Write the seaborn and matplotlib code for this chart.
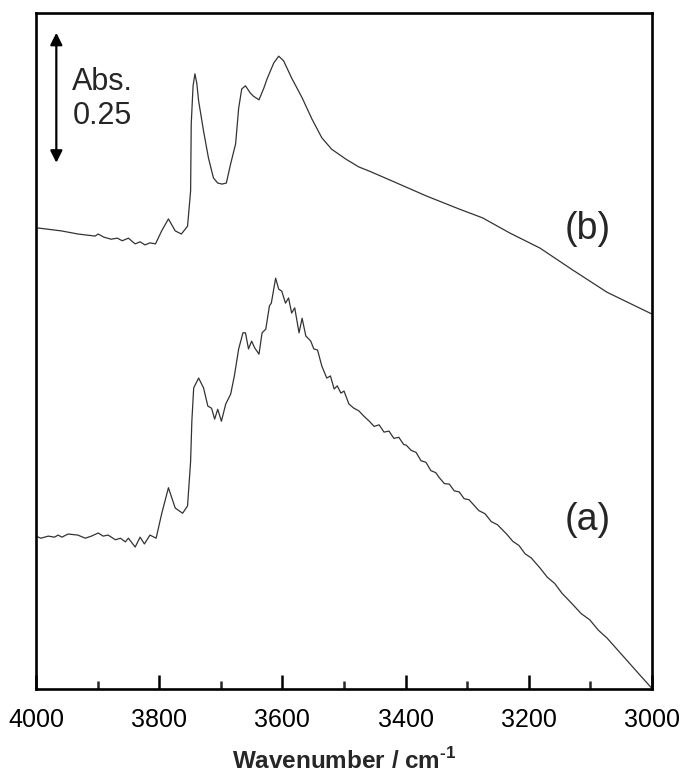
import matplotlib
matplotlib.use("Agg")
import matplotlib.pyplot as plt
from matplotlib.ticker import MultipleLocator
import seaborn as sns
import pandas as pd

# ---- data (wavenumber / cm-1, absorbance with vertical offset) ----
wn_b = [4000, 3959, 3932, 3904, 3899, 3890, 3878, 3868, 3860, 3850, 3839, 3831, 3823,
        3815, 3806, 3796, 3785, 3774, 3764, 3754, 3749, 3748, 3745, 3742, 3739, 3736,
        3728, 3720, 3712, 3705, 3698, 3691, 3684, 3676, 3671, 3666, 3660, 3652, 3647,
        3638, 3630, 3625, 3614, 3606, 3598, 3585, 3568, 3552, 3536, 3520, 3497, 3476,
        3459, 3422, 3366, 3313, 3275, 3231, 3182, 3129, 3073, 3000]
abs_b = [0.887, 0.881, 0.875, 0.871, 0.875, 0.869, 0.865, 0.867, 0.862, 0.867, 0.856,
         0.860, 0.854, 0.858, 0.856, 0.881, 0.904, 0.881, 0.875, 0.890, 0.958, 1.087,
         1.160, 1.183, 1.165, 1.131, 1.073, 1.021, 0.983, 0.973, 0.971, 0.973, 1.010,
         1.048, 1.117, 1.154, 1.160, 1.146, 1.140, 1.133, 1.156, 1.173, 1.204, 1.217,
         1.208, 1.175, 1.137, 1.096, 1.060, 1.038, 1.019, 1.004, 0.996, 0.977, 0.948,
         0.923, 0.906, 0.877, 0.848, 0.806, 0.763, 0.721]

wn_a = [4000, 3992, 3980, 3970, 3964, 3958, 3948, 3932, 3920, 3910, 3899, 3891, 3883,
        3871, 3863, 3855, 3850, 3839, 3831, 3824, 3815, 3805, 3796, 3785, 3774, 3762,
        3754, 3749, 3747, 3744, 3736, 3728, 3721, 3715, 3710, 3705, 3699, 3692, 3684,
        3678, 3671, 3664, 3660, 3655, 3650, 3645, 3638, 3633, 3627, 3621, 3618, 3611,
        3606, 3601, 3595, 3590, 3585, 3580, 3573, 3568, 3562, 3554, 3549, 3543, 3536,
        3528, 3522, 3516, 3511, 3505, 3500, 3492, 3484, 3476, 3468, 3459, 3451, 3443,
        3435, 3427, 3419, 3411, 3403, 3399, 3391, 3383, 3375, 3367, 3359, 3351, 3345,
        3337, 3329, 3321, 3313, 3305, 3297, 3291, 3281, 3271, 3261, 3251, 3236, 3226,
        3216, 3206, 3196, 3182, 3170, 3158, 3146, 3129, 3115, 3101, 3087, 3073, 3055,
        3037, 3019, 3000]
abs_a = [0.294, 0.290, 0.294, 0.292, 0.296, 0.292, 0.298, 0.296, 0.290, 0.294, 0.300,
         0.294, 0.296, 0.287, 0.290, 0.283, 0.290, 0.273, 0.292, 0.279, 0.296, 0.290,
         0.337, 0.387, 0.348, 0.338, 0.352, 0.438, 0.515, 0.579, 0.598, 0.579, 0.544,
         0.540, 0.519, 0.538, 0.515, 0.548, 0.567, 0.602, 0.654, 0.685, 0.685, 0.654,
         0.669, 0.656, 0.644, 0.685, 0.692, 0.737, 0.742, 0.790, 0.769, 0.765, 0.742,
         0.752, 0.723, 0.733, 0.685, 0.713, 0.679, 0.669, 0.654, 0.652, 0.621, 0.598,
         0.602, 0.577, 0.583, 0.569, 0.573, 0.548, 0.540, 0.535, 0.525, 0.515, 0.505,
         0.508, 0.494, 0.496, 0.482, 0.484, 0.470, 0.469, 0.459, 0.455, 0.439, 0.436,
         0.420, 0.416, 0.406, 0.395, 0.394, 0.381, 0.379, 0.366, 0.364, 0.356, 0.343,
         0.337, 0.322, 0.316, 0.298, 0.284, 0.276, 0.260, 0.252, 0.233, 0.215, 0.203,
         0.184, 0.163, 0.145, 0.133, 0.113, 0.098, 0.074, 0.050, 0.026, 0.001]

labels = ["(a)", "(b)"]
x_ticks = [4000, 3800, 3600, 3400, 3200, 3000]
scale_text = "Abs.\n0.25"
scale_len = 0.25

sns.set_theme(style="white")
plt.rcParams["font.family"] = ["Liberation Sans", "DejaVu Sans"]
plt.rcParams["mathtext.fontset"] = "custom"
plt.rcParams["mathtext.bf"] = "Liberation Sans:bold"
plt.rcParams["mathtext.rm"] = "Liberation Sans"

fig = plt.figure(figsize=(6.88, 7.78), dpi=100)
ax = fig.add_axes([36 / 688, 1 - 689 / 778, 616 / 688, 676 / 778])

df_a = pd.DataFrame({"wn": wn_a, "A": abs_a})
df_b = pd.DataFrame({"wn": wn_b, "A": abs_b})
sns.lineplot(data=df_a, x="wn", y="A", ax=ax, color="#333333", lw=0.9,
             estimator=None, sort=False)
sns.lineplot(data=df_b, x="wn", y="A", ax=ax, color="#333333", lw=0.9,
             estimator=None, sort=False)

ax.set_xlim(4000, 3000)
ax.set_ylim(0, 1.3)
ax.set_xticks(x_ticks)
ax.set_xticklabels([str(t) for t in x_ticks])
ax.xaxis.set_minor_locator(MultipleLocator(100))
ax.set_yticks([])
ax.set_ylabel("")
ax.tick_params(axis="x", which="major", direction="in", length=10, width=1.8,
               labelsize=18, pad=14, colors="black", bottom=True, top=False)
ax.tick_params(axis="x", which="minor", direction="in", length=6, width=1.8,
               bottom=True, top=False)
for s in ax.spines.values():
    s.set_color("black")
    s.set_linewidth(1.9)
    s.set_visible(True)

ax.set_xlabel("Wavenumber / cm$^{\\mathbf{\u2010}\\mathbf{1}}$", fontsize=17.5,
              fontweight="bold", labelpad=11)

# labels for traces
ax.text(3105, (688 - 519) / 520, labels[0], fontsize=27, ha="center", va="center")
ax.text(3105, (688 - 228) / 520, labels[1], fontsize=27, ha="center", va="center")

# scale bar
ax.annotate("", xy=(3967, 1.262), xytext=(3967, 1.262 - scale_len),
            arrowprops=dict(arrowstyle="<|-|>", color="black", lw=1.6,
                            mutation_scale=18, shrinkA=0, shrinkB=0))
ax.text(3941, 1.135, scale_text, fontsize=22, ha="left", va="center",
        linespacing=1.2)

fig.savefig("out.png", dpi=100)
